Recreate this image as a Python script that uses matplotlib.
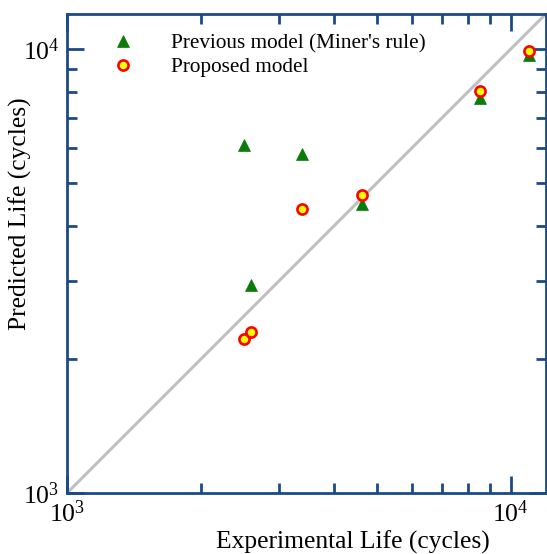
import matplotlib
matplotlib.use("Agg")
import matplotlib.pyplot as plt
from matplotlib.ticker import LogLocator, NullFormatter

plt.rcParams['font.family'] = ['Liberation Serif', 'DejaVu Serif']
plt.rcParams['mathtext.fontset'] = 'custom'
plt.rcParams['mathtext.rm'] = 'Liberation Serif'
plt.rcParams['mathtext.it'] = 'Liberation Serif:italic'

# Fatigue life data (cycles)
experimental_life = [2510, 2600, 3390, 4630, 8520, 10980]
previous_model = [6090, 2940, 5790, 4480, 7750, 9710]
proposed_model = [2220, 2310, 4360, 4680, 8050, 9910]
axis_limits = [1000, 12000]

spine_color = '#1b4a87'

fig = plt.figure(figsize=(5.47, 5.54), dpi=100)
ax = fig.add_axes([0.1225, 0.110, 0.8755, 0.865])

ax.set_xscale('log')
ax.set_yscale('log')
ax.set_xlim(axis_limits)
ax.set_ylim(axis_limits)

# 1:1 reference line
ax.plot(axis_limits, axis_limits, color='#c0c0c0', lw=2.2, zorder=1)

ax.plot(experimental_life, previous_model, linestyle='none', marker='^',
        ms=8.6, mew=0.5, color='#0a7a0a', mec='#0a7a0a',
        label="Previous model (Miner's rule)", zorder=3)
ax.plot(experimental_life, proposed_model, linestyle='none', marker='o',
        ms=7.3, mfc='#ffff00', mec='#ff0000', mew=1.9,
        label='Proposed model', zorder=4)

for s in ax.spines.values():
    s.set_color(spine_color)
    s.set_linewidth(2)

ax.xaxis.set_major_locator(LogLocator(base=10))
ax.yaxis.set_major_locator(LogLocator(base=10))
ax.xaxis.set_minor_locator(LogLocator(base=10, subs=range(2, 10)))
ax.yaxis.set_minor_locator(LogLocator(base=10, subs=range(2, 10)))
ax.xaxis.set_minor_formatter(NullFormatter())
ax.yaxis.set_minor_formatter(NullFormatter())

ax.tick_params(which='both', direction='in', top=True, right=True,
               color=spine_color, width=2, labelsize=18.5, labelcolor='black')
ax.tick_params(which='major', length=12, pad=5.5)
ax.tick_params(which='minor', length=7)

ax.set_xlabel('Experimental Life (cycles)', fontsize=18.4)
ax.set_ylabel('Predicted Life (cycles)', fontsize=18.4)
ax.xaxis.set_label_coords(0.596, -0.078)
ax.yaxis.set_label_coords(-0.073, 0.583)

ax.legend(loc='upper left', bbox_to_anchor=(0.0725, 0.977), frameon=False,
          fontsize=15.3, handlelength=1.2, handletextpad=1.65, labelspacing=0.2,
          borderaxespad=0)

fig.savefig('out.png', dpi=100)
